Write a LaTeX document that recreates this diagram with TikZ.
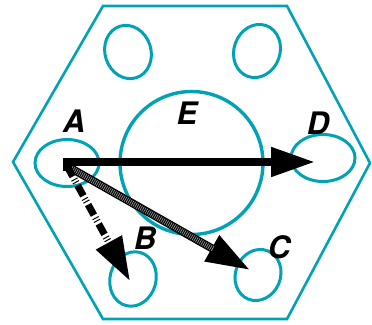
\documentclass[tikz,border=0pt]{standalone}
\usepackage{fontspec}
\setmainfont{TeX Gyre Heros}
\usetikzlibrary{shapes.geometric,arrows.meta}
\definecolor{teal1}{RGB}{0,162,180}
\definecolor{hatchlight}{RGB}{150,150,150}
\tikzset{
  ring/.style={draw=teal1,line width=3pt,ellipse,inner sep=0pt},
  lbl/.style={font=\fontsize{31}{31}\selectfont\bfseries\itshape,inner sep=0pt},
  bigtip/.style={-{Triangle[length=44pt,width=28pt]}},
}
\begin{document}
\begin{tikzpicture}[x=1pt,y=-1pt]
\useasboundingbox (0,0) rectangle (372,324);
% hexagon
\draw[teal1,line width=2.6pt,line join=miter]
  (103,6) -- (287,6) -- (370,163) -- (287,319) -- (103,319) -- (13,162) -- cycle;
% rings
\node[ring,minimum width=46pt,minimum height=54pt,rotate=18] (TL) at (128,52) {};
\node[ring,minimum width=46pt,minimum height=54pt,rotate=-20] (TR) at (257,51) {};
\node[ring,minimum width=64pt,minimum height=47pt] (A) at (67,163) {};
\node[ring,minimum width=64pt,minimum height=47pt] (D) at (323,158) {};
\node[ring,minimum width=46pt,minimum height=55pt,rotate=-15] (B) at (133,279) {};
\node[ring,minimum width=45pt,minimum height=52pt,rotate=-22] (C) at (258,275) {};
\node[draw=teal1,line width=3.4pt,circle,minimum size=143pt,inner sep=0pt] (E) at (191.5,163) {};
% labels
\node[lbl] at (74,121) {A};
\node[lbl] at (187,113) {E};
\node[lbl] at (318,123) {D};
\node[lbl] at (145,238) {B};
\node[lbl] at (279,247) {C};
% connectors
\coordinate (a1) at (63,162);
\coordinate (a2) at (67,166);
\coordinate (d1) at (315,162);
\coordinate (c1) at (250,270);
\coordinate (b1) at (130,281);
% A -> C hatched
\draw[black,line width=8pt,bigtip] (a2) -- (c1);
\draw[hatchlight,line width=5.5pt,dash pattern=on 0.7pt off 1.3pt,shorten >=42pt,shorten <=3pt] (a2) -- (c1);
% A -> B dash-dot
\draw[black,line width=7pt,dash pattern=on 12pt off 3pt on 1pt off 2pt on 1pt off 3pt,bigtip] (a2) -- (b1);
% A -> D solid
\draw[black,line width=8pt,bigtip] (a1) -- (d1);
\fill[black] (a2) ++(-4,-4) rectangle ++(8,9);
\end{tikzpicture}
\end{document}
